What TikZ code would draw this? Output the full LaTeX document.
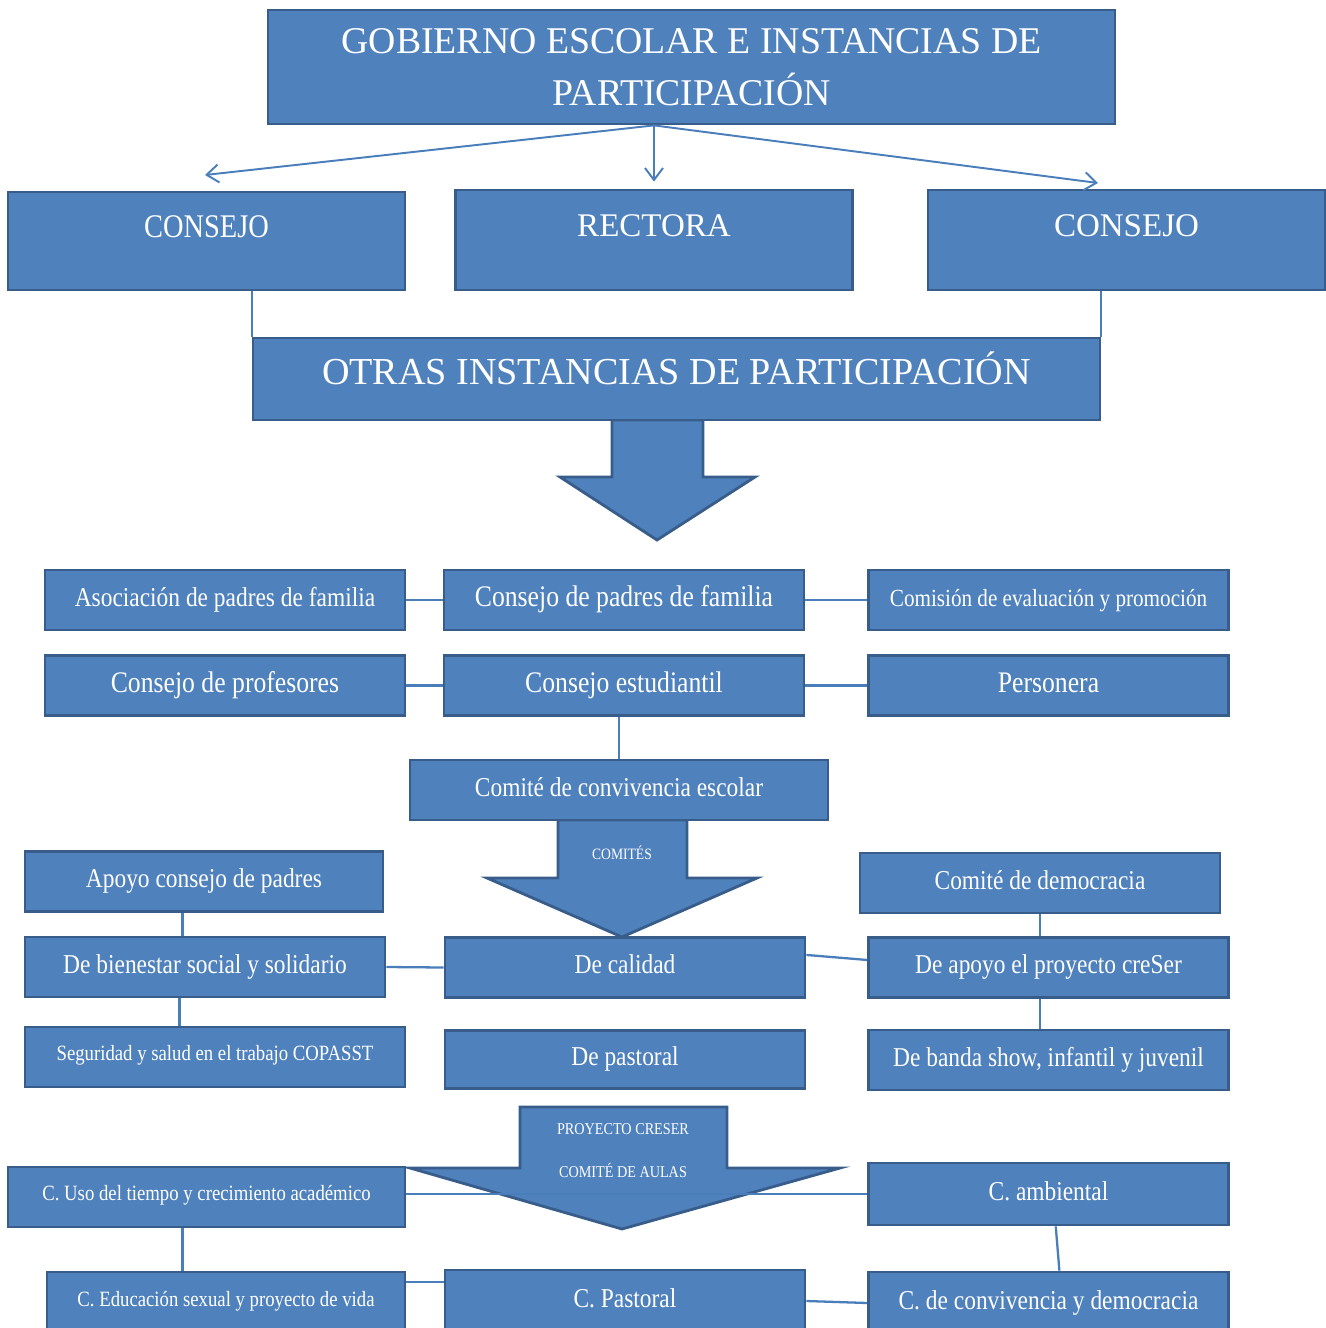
\documentclass[tikz,border=0pt]{standalone}
\usepackage{fontspec}
\setmainfont{Liberation Serif}
\newfontfamily\estrecha{Liberation Serif}[FakeStretch=0.86]
\usetikzlibrary{arrows.meta,positioning,calc}
\definecolor{azulcaja}{HTML}{4F81BD}
\definecolor{bordecaja}{HTML}{385D8A}
\definecolor{azullinea}{HTML}{4A7EBB}

\begin{document}
\begin{tikzpicture}[x=0.02cm,y=-0.02cm,
  caja/.style={fill=azulcaja,draw=bordecaja,line width=1.6pt,text=white,inner sep=2pt},
  cabecera/.style={caja,minimum width=7.94cm,minimum height=2cm,text height=0.44cm,text depth=0.6cm,font=\fontsize{18.8}{22}\selectfont},
  fila/.style={caja,minimum width=7.2cm,minimum height=1.2cm,text height=10.5pt,text depth=3.4pt,font=\estrecha\fontsize{15.5}{18}\selectfont},
  filagrande/.style={fila,text height=11.6pt,text depth=3.7pt,font=\estrecha\fontsize{17}{20}\selectfont},
  filachica/.style={fila,text height=8.5pt,text depth=5pt,font=\estrecha\fontsize{12.4}{15}\selectfont},
  conector/.style={draw=azullinea,line width=1.3pt},
  flecha/.style={conector,line width=1.1pt,-{Straight Barb[length=0.24cm,width=0.36cm]}},
  flechagrande/.style={fill=azulcaja,draw=bordecaja,line width=1.6pt,line join=miter},
  rotulo/.style={text=white,inner sep=1pt}]
\useasboundingbox (0,0) rectangle (1325,1328);
% flechas grandes
\draw[flechagrande] (612,420) -- (703,420) -- (703,477) -- (755,477) -- (657,540) -- (560,477) -- (612,477) -- cycle;
\draw[flechagrande] (558,820) -- (687,820) -- (687,878) -- (757,878) -- (622,937) -- (487,878) -- (558,878) -- cycle;
\draw[flechagrande] (520,1107) -- (727,1107) -- (727,1168) -- (840,1168) -- (622,1229) -- (410,1168) -- (520,1168) -- cycle;
\node[rotulo,font=\estrecha\fontsize{9}{11}\selectfont] (comites) at (622,853) {COMITÉS};
\node[rotulo,align=center,font=\estrecha\fontsize{9.4}{24.5}\selectfont] (aulas) at (623,1151) {PROYECTO CRESER\\COMITÉ DE AULAS};
% gobierno escolar
\node[caja,minimum width=16.94cm,minimum height=2.28cm,align=center,font=\fontsize{21.5}{29.6}\selectfont] (titulo) at (691.5,67) {GOBIERNO ESCOLAR E INSTANCIAS DE\\PARTICIPACIÓN};
\node[cabecera,minimum height=1.96cm,font=\estrecha\fontsize{18.8}{22}\selectfont] (consejoI) at (206.5,241) {CONSEJO};
\node[cabecera] (rectora) at (654,240) {RECTORA};
\node[cabecera] (consejoD) at (1126.5,240) {CONSEJO};
\node[caja,minimum width=16.94cm,minimum height=1.64cm,text height=0.45cm,text depth=0.24cm,font=\fontsize{21.7}{25}\selectfont] (otras) at (676.5,379) {OTRAS INSTANCIAS DE PARTICIPACIÓN};
% instancias
\node[fila] (asociacion) at (225,600) {Asociación de padres de familia};
\node[filagrande] (cpadres) at (624,600) {Consejo de padres de familia};
\node[fila,font=\estrecha\fontsize{14}{17}\selectfont] (comision) at (1048.5,600) {Comisión de evaluación y promoción};
\node[filagrande] (profesores) at (225,685.5) {Consejo de profesores};
\node[filagrande] (estudiantil) at (624,685.5) {Consejo estudiantil};
\node[filagrande] (personera) at (1048.5,685.5) {Personera};
\node[fila,minimum width=8.36cm] (convivencia) at (619,790) {Comité de convivencia escolar};
% comites
\node[fila,minimum width=7.16cm] (apoyo) at (204,881.5) {Apoyo consejo de padres};
\node[fila] (bienestar) at (205,967) {De bienestar social y solidario};
\node[filachica,minimum width=7.6cm] (copasst) at (215,1057) {Seguridad y salud en el trabajo COPASST};
\node[fila] (calidad) at (625,967.5) {De calidad};
\node[fila,minimum height=1.16cm] (pastoral) at (625,1059.5) {De pastoral};
\node[fila] (democracia) at (1040,883) {Comité de democracia};
\node[fila] (creser) at (1048.5,967.5) {De apoyo el proyecto creSer};
\node[fila] (banda) at (1048.5,1060) {De banda show, infantil y juvenil};
% comites de aula
\node[filachica,minimum width=7.94cm] (uso) at (206.5,1197) {C. Uso del tiempo y crecimiento académico};
\node[filachica,minimum width=7.16cm,minimum height=1.24cm] (educacion) at (226,1303) {C. Educación sexual y proyecto de vida};
\node[fila,minimum height=1.24cm] (cpastoral) at (625,1301) {C. Pastoral};
\node[fila,minimum height=1.24cm] (ambiental) at (1048.5,1194) {C. ambiental};
\node[fila,minimum height=1.24cm] (convdem) at (1048.5,1303) {C. de convivencia y democracia};
% conectores
\coordinate (raiz) at (titulo.south -| rectora.north);
\coordinate (puntaI) at (205,175);
\coordinate (puntaD) at (1098,183);
\draw[flecha] (raiz) -- (puntaI);
\draw[flecha,shorten >=0.14cm] (raiz) -- (rectora.north);
\draw[flecha] (raiz) -- (puntaD);
\draw[conector] (consejoI.south -| otras.north west) -- (otras.north west);
\draw[conector] (consejoD.south -| otras.north east) -- (otras.north east);
\draw[conector] (asociacion.east) -- (cpadres.west);
\draw[conector] (cpadres.east) -- (comision.west);
\draw[conector] (profesores.east) -- (estudiantil.west);
\draw[conector] (estudiantil.east) -- (personera.west);
\draw[conector] (convivencia.north) -- (convivencia.north |- estudiantil.south);
\coordinate (a1) at ($(apoyo.south west)!0.44!(apoyo.south east)$);
\draw[conector] (a1) -- (a1 |- bienestar.north);
\coordinate (b1) at ($(bienestar.south west)!0.43!(bienestar.south east)$);
\draw[conector] (b1) -- (b1 |- copasst.north);
\draw[conector] (bienestar.east) -- (calidad.west);
\draw[conector] ($(calidad.north east)!0.3!(calidad.south east)$) -- ($(creser.north west)!0.38!(creser.south west)$);
\draw[conector] (democracia.south) -- (democracia.south |- creser.north);
\draw[conector] (democracia.south |- creser.south) -- (democracia.south |- banda.north);
\draw[conector] (ambiental.west -| uso.east) -- (ambiental.west);
\coordinate (u1) at ($(uso.south west)!0.44!(uso.south east)$);
\draw[conector] (u1) -- (u1 |- educacion.north);
\coordinate (e1) at ($(educacion.north east)!0.18!(educacion.south east)$);
\draw[conector] (e1) -- (e1 -| cpastoral.west);
\draw[conector] (cpastoral.east) -- (convdem.west);
\draw[conector] ($(ambiental.south west)!0.52!(ambiental.south east)$) -- ($(convdem.north west)!0.53!(convdem.north east)$);
\end{tikzpicture}
\end{document}
